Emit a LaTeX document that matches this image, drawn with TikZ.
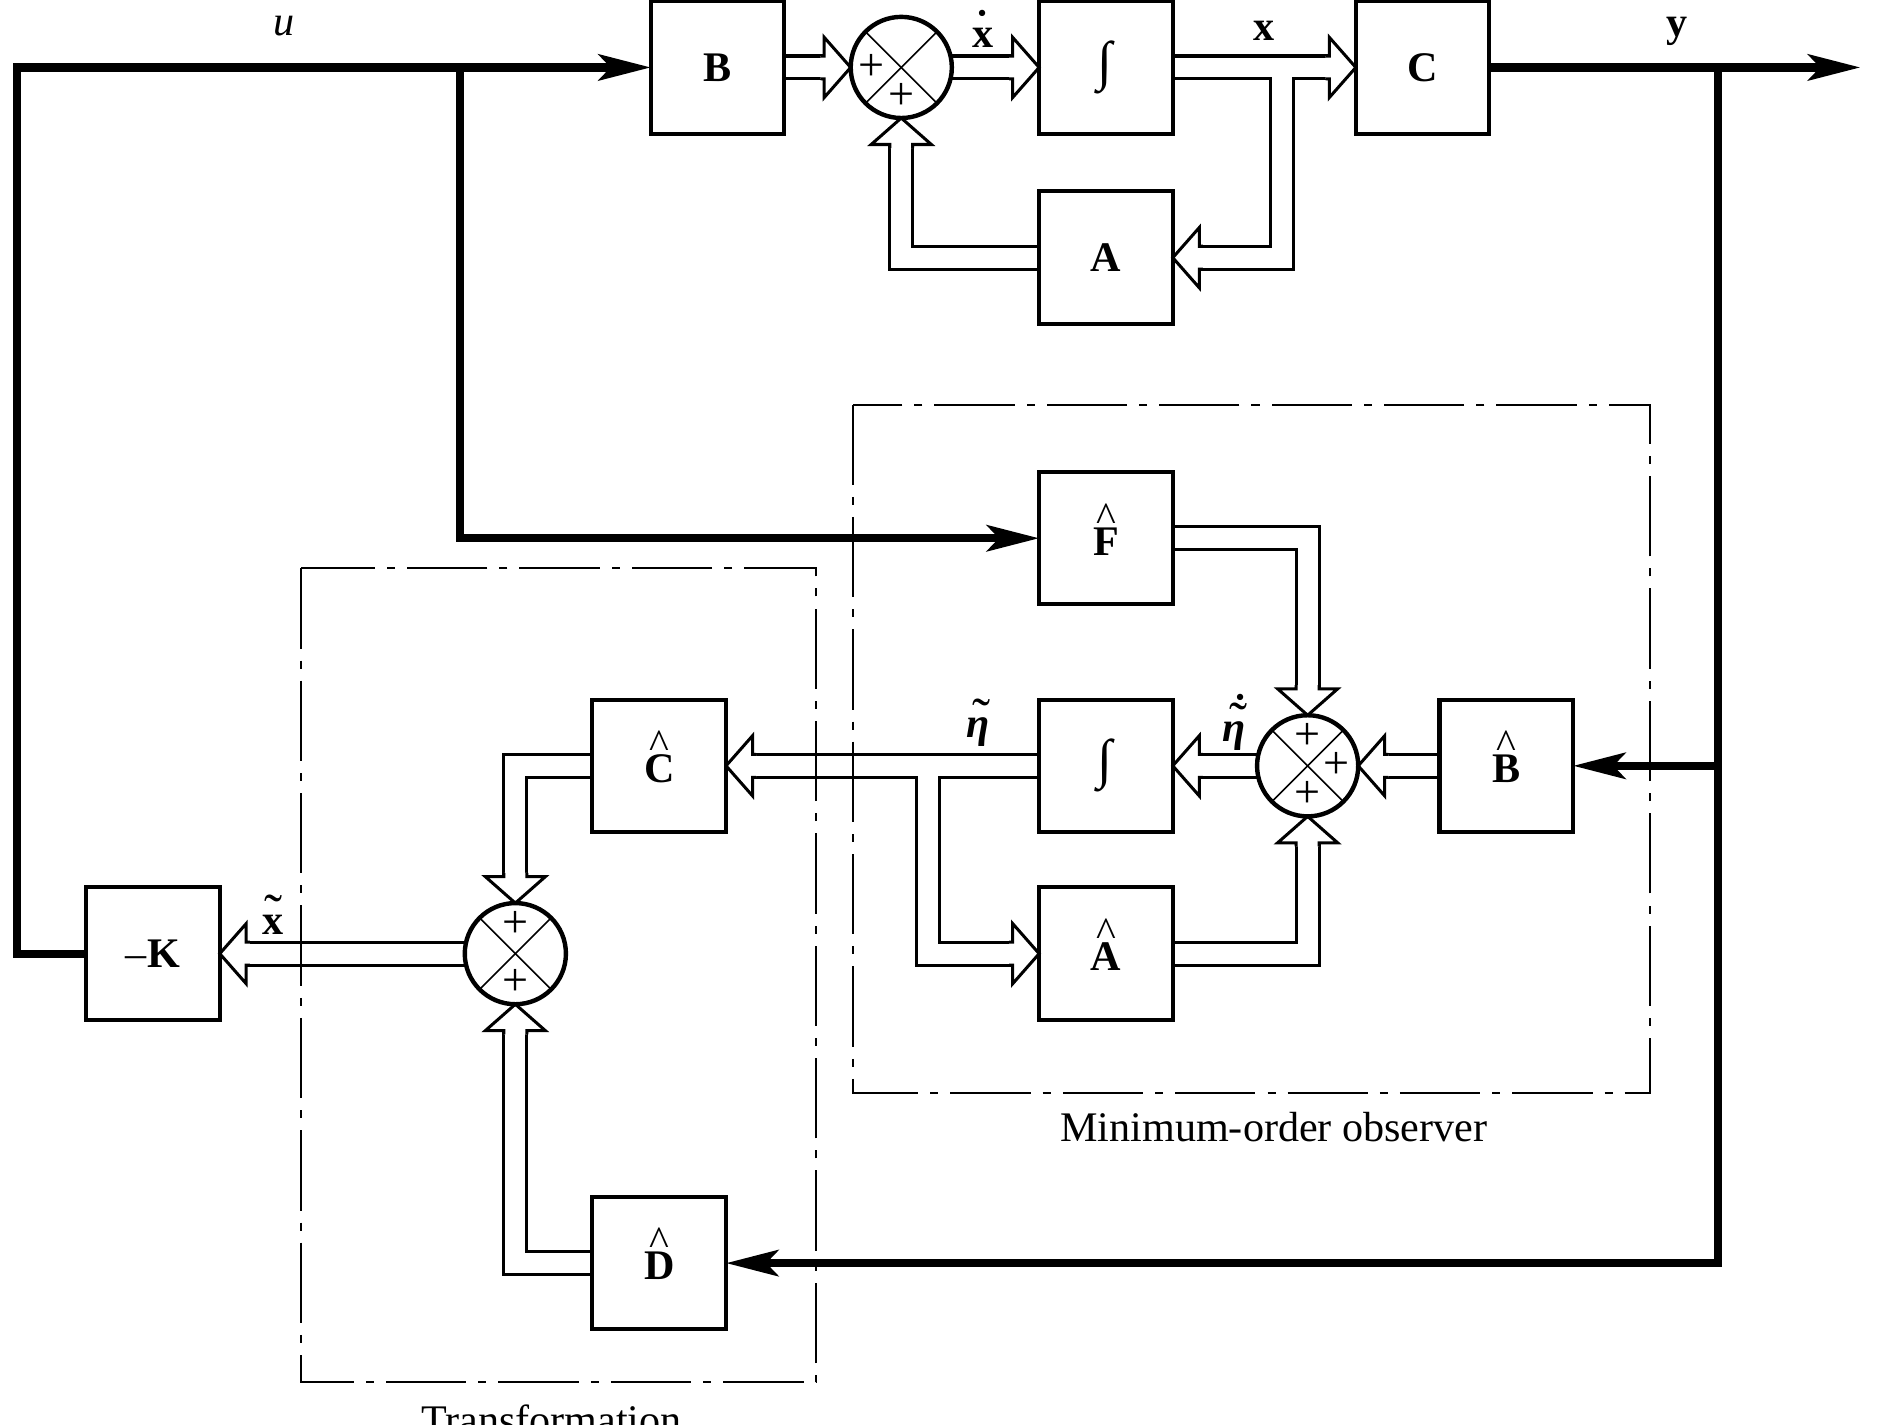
\documentclass[tikz,border=0pt]{standalone}
\usepackage{fontspec}
\setmainfont{Liberation Serif}
\usetikzlibrary{arrows.meta,calc}
\pgfdeclarelayer{bg}
\pgfsetlayers{bg,main}
\newcommand\lbl{\fontsize{21}{24}\selectfont}
\newcommand\accx[3]{\leavevmode\setbox0\hbox{#1}\hbox to\wd0{\hss\raisebox{#3}{#2}\hss}\kern-\wd0\box0}
\newcommand\hb[1]{\raisebox{0pt}[0.8em][0pt]{\accx{\textbf{#1}}{\fontsize{21}{21}\selectfont\textasciicircum}{0.57em}}}
\newcommand\bigtl{{\fontsize{27}{27}\selectfont ˜}}
\newcommand\etab{\textbf{\textit{η}}}
\newcommand\intg{{\fontsize{27}{27}\selectfont\textit{∫}}}
\newcommand\phead[2]{\begin{scope}[shift={(#1)},rotate=#2]
  \filldraw[fill=white,draw=black,line width=1.5pt,line join=miter]
   (-25,9.5) -- (-22,9.5) -- (-22,25) -- (0,0) -- (-22,-25) -- (-22,-9.5) -- (-25,-9.5);
\end{scope}}
\newcommand\pipepaths[1]{%
  \draw[#1] (B.east) -- ($(S1.west)+(-22,0)$);
  \draw[#1] (S1.east) -- ($(I1.west)+(-22,0)$);
  \draw[#1] (I1.east) -- ($(C.west)+(-22,0)$);
  \draw[#1] (j1) |- ($(A.east)+(22,0)$);
  \draw[#1] (A.west) -| ($(S1.south)+(0,22)$);
  \draw[#1] (Fh.east) -| ($(S2.north)+(0,-22)$);
  \draw[#1] (Bh.west) -- ($(S2.east)+(22,0)$);
  \draw[#1] (S2.west) -- ($(I2.east)+(22,0)$);
  \draw[#1] (I2.west) -- ($(Ch.east)+(22,0)$);
  \draw[#1] (j2) |- ($(Ah.west)+(-22,0)$);
  \draw[#1] (Ah.east) -| ($(S2.south)+(0,22)$);
  \draw[#1] (Ch.west) -| ($(S3.north)+(0,-22)$);
  \draw[#1] (Dh.west) -| ($(S3.south)+(0,22)$);
  \draw[#1] (S3.west) -- ($(K.east)+(22,0)$);
}
\begin{document}
\begin{tikzpicture}[x=0.6pt,y=-0.6pt,line join=miter,
  blk/.style={draw,line width=2pt,minimum width=66.6pt,minimum height=66pt,inner sep=0pt,outer sep=0pt,font=\lbl},
  sumn/.style={draw,circle,line width=2.2pt,minimum size=50.4pt,inner sep=0pt,outer sep=0pt},
  crossl/.style={line width=0.8pt},
  plus/.style={inner sep=0pt,font=\fontsize{23}{23}\selectfont},
  pipeblack/.style={line width=12.9pt,black,line cap=butt},
  pipewhite/.style={line width=9.9pt,white,line cap=butt},
  sig/.style={line width=4.1pt,-{Stealth[length=26pt,width=13pt,inset=6pt]}},
  dashbox/.style={line width=1pt,dash pattern=on 40pt off 6pt on 4pt off 6pt},
  lab/.style={inner sep=0pt,font=\lbl},
]
\useasboundingbox (0,0) rectangle (1568,1183);
\clip (0,0) rectangle (1568,1183);
% plant
\node[blk] (B) at (596,56) {\textbf{B}};
\node[sumn] (S1) at (748.5,56) {};
\node[blk] (I1) at (918.5,56) {\intg};
\node[blk] (C) at (1181.5,56) {\textbf{C}};
\node[blk] (A) at (918.5,214) {\textbf{A}};
% observer
\node[blk] (Fh) at (918.5,447) {\hb{F}};
\node[blk] (I2) at (918.5,636) {\intg};
\node[sumn] (S2) at (1086,636) {};
\node[blk] (Bh) at (1251,636) {\hb{B}};
\node[blk] (Ah) at (918.5,792) {\hb{A}};
% transformation
\node[blk] (Ch) at (547.5,636) {\hb{C}};
\node[sumn] (S3) at (428,792) {};
\node[blk] (Dh) at (547.5,1049) {\hb{D}};
\node[blk] (K) at (127,792) {–\textbf{K}};
% junctions
\coordinate (j1) at (1065,56);
\coordinate (j2) at (771,636);
\coordinate (j3) at (382,56);
\coordinate (j4) at (1427,56);
\coordinate (lft) at (14,400);
\coordinate (out) at (1545,56);
% sum decorations
\foreach \s in {S1,S2,S3}{
  \draw[crossl] (\s.north east) -- (\s.south west);
  \draw[crossl] (\s.north west) -- (\s.south east);
}
\node[plus] (p1a) at ($(S1)+(-25,0)$) {+};
\node[plus] (p1b) at ($(S1)+(0,24)$) {+};
\node[plus] (p2a) at ($(S2)+(0,-24)$) {+};
\node[plus] (p2b) at ($(S2)+(24,0)$) {+};
\node[plus] (p2c) at ($(S2)+(0,24)$) {+};
\node[plus] (p3a) at ($(S3)+(0,-24)$) {+};
\node[plus] (p3b) at ($(S3)+(0,24)$) {+};
% double-line pipes
\begin{pgfonlayer}{bg}
\fill[white] (0,0) rectangle (1568,1183);
\pipepaths{pipeblack}
\pipepaths{pipewhite}
\phead{S1.west}{0}
\phead{I1.west}{0}
\phead{C.west}{0}
\phead{A.east}{180}
\phead{S1.south}{90}
\phead{S2.north}{270}
\phead{S2.east}{180}
\phead{I2.east}{180}
\phead{Ch.east}{180}
\phead{Ah.west}{0}
\phead{S2.south}{90}
\phead{S3.north}{270}
\phead{S3.south}{90}
\phead{K.east}{180}
\end{pgfonlayer}
% signal lines
\draw[sig] (K.west) -| (lft) |- (B.west);
\draw[sig] (j3) |- (Fh.west);
\draw[sig] (C.east) -- (out);
\draw[sig] (j4) |- (Dh.east);
\draw[sig] (Bh.east -| j4) -- (Bh.east);
% dashed frames
\draw[dashbox] (708,336) rectangle (1370,908);
\draw[dashbox] (250,472) rectangle (678,1148);
% labels
\node[lab] (lu) at (236,22) {\textit{u}};
\node[lab] (lxd) at (816,24) {\accx{\textbf{x}}{\textbf{˙}}{0.17em}};
\node[lab] (lx) at (1050,26) {\textbf{x}};
\node[lab] (ly) at (1393,26) {\textbf{y}};
\node[lab] (leta) at (812,600) {\accx{\etab}{\kern0.2em\bigtl}{0.05em}};
\node[lab] (letad) at (1025,600) {\accx{\accx{\etab}{\kern0.2em\bigtl}{0.05em}}{\kern0.3em\textbf{˙}}{0.42em}};
\node[lab] (lxt) at (227,760) {\accx{\textbf{x}}{\bigtl}{0.07em}};
\node[lab,anchor=base] (lobs) at (1058,948) {Minimum-order observer};
\node[lab,anchor=base] (ltr) at (458,1191) {Transformation};
\end{tikzpicture}
\end{document}
